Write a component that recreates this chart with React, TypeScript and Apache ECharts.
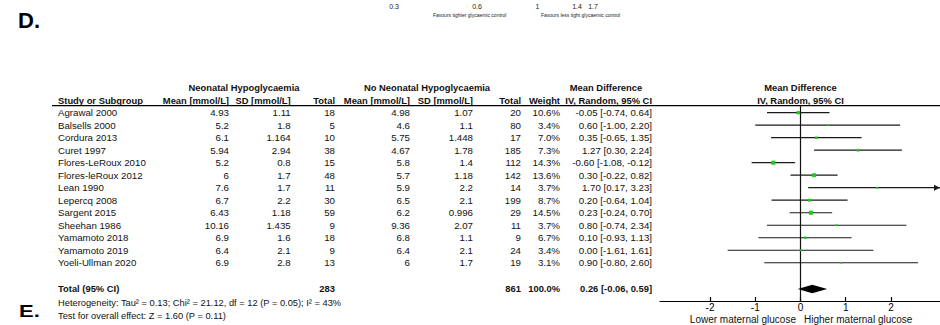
import React, { useEffect, useRef } from 'react';
import * as echarts from 'echarts';

// ---------- data ----------
const studies = ['Agrawal 2000', 'Balsells 2000', 'Cordura 2013', 'Curet 1997', 'Flores-LeRoux 2010', 'Flores-leRoux 2012', 'Lean 1990', 'Lepercq 2008', 'Sargent 2015', 'Sheehan 1986', 'Yamamoto 2018', 'Yamamoto 2019', 'Yoeli-Ullman 2020'];
const nhMean = ['4.93', '5.2', '6.1', '5.94', '5.2', '6', '7.6', '6.7', '6.43', '10.16', '6.9', '6.4', '6.9'];
const nhSD = ['1.11', '1.8', '1.164', '2.94', '0.8', '1.7', '1.7', '2.2', '1.18', '1.435', '1.6', '2.1', '2.8'];
const nhTotal = [18, 5, 10, 38, 15, 48, 11, 30, 59, 9, 18, 9, 13];
const nnhMean = ['4.98', '4.6', '5.75', '4.67', '5.8', '5.7', '5.9', '6.5', '6.2', '9.36', '6.8', '6.4', '6'];
const nnhSD = ['1.07', '1.1', '1.448', '1.78', '1.4', '1.18', '2.2', '2.1', '0.996', '2.07', '1.1', '2.1', '1.7'];
const nnhTotal = [20, 80, 17, 185, 112, 142, 14, 199, 29, 11, 9, 24, 19];
const weights = [10.6, 3.4, 7.0, 7.3, 14.3, 13.6, 3.7, 8.7, 14.5, 3.7, 6.7, 3.4, 3.1];
const meanDiff = [-0.05, 0.60, 0.35, 1.27, -0.60, 0.30, 1.70, 0.20, 0.23, 0.80, 0.10, 0.00, 0.90];
const ciLow = [-0.74, -1.00, -0.65, 0.30, -1.08, -0.22, 0.17, -0.64, -0.24, -0.74, -0.93, -1.61, -0.80];
const ciHigh = [0.64, 2.20, 1.35, 2.24, -0.12, 0.82, 3.23, 1.04, 0.70, 2.34, 1.13, 1.61, 2.60];
const totalCounts = [283, 861];
const totalWeight = 100.0;
const totalEffect = [0.26, -0.06, 0.59]; // md, low, high
const heterogeneityText = 'Heterogeneity: Tau² = 0.13; Chi² = 21.12, df = 12 (P = 0.05); I² = 43%';
const overallText = 'Test for overall effect: Z = 1.60 (P = 0.11)';
const axisTicks = [-2, -1, 0, 1, 2];
const topTickLabels = ['0.3', '0.6', '1', '1.4', '1.7'];

// ---------- layout ----------
const X_MIN = -3.105;
const X_MAX = 3.083;
const Y_MIN = -0.56;
const Y_MAX = 15.06;
const TOTAL_ROW = 14.1;
const FONT = '"Liberation Sans", Arial, sans-serif';
const INK = '#111';
const GREEN = '#1ec81e';
const BODY = 9.7;
const HEAD = 9.4;

const fmt2 = (v: number) => v.toFixed(2);
const ciText = (m: number, lo: number, hi: number) => `${fmt2(m)} [${fmt2(lo)}, ${fmt2(hi)}]`;

function txt(x: number, y: number, text: string, align: string, opts: any = {}) {
  return {
    type: 'text',
    x,
    y,
    silent: true,
    scaleX: opts.scaleX ?? 1,
    scaleY: opts.scaleY ?? 1,
    style: {
      text,
      fill: opts.fill ?? INK,
      fontSize: opts.size ?? BODY,
      fontWeight: opts.weight ?? 'normal',
      fontFamily: FONT,
      textAlign: align,
      align,
      textVerticalAlign: 'middle',
      verticalAlign: 'middle',
    },
  };
}

export default function App() {
  const ref = useRef<HTMLDivElement>(null);

  useEffect(() => {
    if (!ref.current) return;
    const chart = echarts.init(ref.current, null, { renderer: 'svg' });

    const ciData = studies.map((_, i) => [i, meanDiff[i], ciLow[i], ciHigh[i], weights[i]]);

    chart.setOption({
      animation: false,
      grid: { left: 660, right: 0, top: 105.7, height: 195.3 },
      xAxis: {
        type: 'value',
        min: X_MIN,
        max: X_MAX,
        axisLine: { show: true, onZero: false, lineStyle: { color: '#000', width: 1.2 } },
        axisTick: { show: true, inside: true, length: 4, customValues: axisTicks, lineStyle: { color: '#000', width: 1.2 } },
        axisLabel: { show: true, customValues: axisTicks, color: '#000', fontSize: 10, fontFamily: FONT, margin: 1 },
        splitLine: { show: false },
      },
      yAxis: {
        type: 'value',
        min: Y_MIN,
        max: Y_MAX,
        inverse: true,
        show: false,
        splitLine: { show: false },
      },
      series: [
        {
          type: 'line',
          data: [[0, Y_MIN], [0, Y_MAX]],
          showSymbol: false,
          symbol: 'none',
          lineStyle: { color: '#111', width: 1.2 },
          silent: true,
          z: 1,
        },
        {
          type: 'custom',
          data: ciData,
          encode: { x: [1, 2, 3], y: 0 },
          clip: false,
          z: 2,
          renderItem: (_params: any, api: any) => {
            const row = api.value(0);
            const m = api.value(1);
            const lo = api.value(2);
            const hi = api.value(3);
            const w = api.value(4);
            const pLo = api.coord([Math.max(lo, X_MIN), row]);
            const pHi = api.coord([Math.min(hi, X_MAX), row]);
            const pM = api.coord([m, row]);
            const s = 1.2 + w * 0.2;
            const children: any[] = [
              { type: 'line', shape: { x1: pLo[0], y1: pLo[1], x2: pHi[0], y2: pHi[1] }, style: { stroke: '#1a1a1a', lineWidth: 1.2 } },
              { type: 'rect', shape: { x: pM[0] - s / 2, y: pM[1] - s / 2, width: s, height: s }, style: { fill: GREEN } },
            ];
            if (hi > X_MAX) {
              children.push({
                type: 'polygon',
                shape: { points: [[pHi[0], pHi[1]], [pHi[0] - 6, pHi[1] - 3], [pHi[0] - 6, pHi[1] + 3]] },
                style: { fill: '#1a1a1a' },
              });
            }
            return { type: 'group', children };
          },
        },
        {
          type: 'custom',
          data: [[TOTAL_ROW, totalEffect[0], totalEffect[1], totalEffect[2]]],
          encode: { x: [1, 2, 3], y: 0 },
          clip: false,
          z: 3,
          renderItem: (_params: any, api: any) => {
            const row = api.value(0);
            const pM = api.coord([api.value(1), row]);
            const pLo = api.coord([api.value(2), row]);
            const pHi = api.coord([api.value(3), row]);
            return {
              type: 'polygon',
              shape: { points: [[pLo[0], pLo[1]], [pM[0], pM[1] - 4.2], [pHi[0], pHi[1]], [pM[0], pM[1] + 4.2]] },
              style: { fill: '#000' },
            };
          },
        },
      ],
    });

    const rowY = (r: number) => chart.convertToPixel({ gridIndex: 0 }, [0, r])[1];
    const zeroX = chart.convertToPixel({ gridIndex: 0 }, [0, 0])[0];

    const g: any[] = [];
    // panel letters
    g.push(txt(18, 20, 'D.', 'left', { size: 22, weight: 'bold', fill: '#000' }));
    g.push(txt(19, 311.5, 'E.', 'left', { size: 22, weight: 'bold', fill: '#000', scaleY: 0.72 }));

    // remnant axis of previous panel
    const topX = [394, 477, 537.5, 577, 593];
    topTickLabels.forEach((t, i) => g.push(txt(topX[i], 6, t, 'center', { size: 7, fill: '#222' })));
    g.push(txt(433, 15, 'Favours tighter glycaemic control', 'left', { size: 5, fill: '#222' }));
    g.push(txt(541, 15, 'Favours less tight glycaemic control', 'left', { size: 5, fill: '#222' }));

    // headers
    const B = { weight: 'bold', size: HEAD };
    g.push(txt(244, 87.7, 'Neonatal Hypoglycaemia', 'center', B));
    g.push(txt(427, 87.7, 'No Neonatal Hypoglycaemia', 'center', B));
    g.push(txt(606, 87.7, 'Mean Difference', 'center', B));
    g.push(txt(zeroX, 87.7, 'Mean Difference', 'center', B));
    g.push(txt(58, 100, 'Study or Subgroup', 'left', B));
    g.push(txt(229, 100, 'Mean [mmol/L]', 'right', B));
    g.push(txt(290.7, 100, 'SD [mmol/L]', 'right', B));
    g.push(txt(335, 100, 'Total', 'right', B));
    g.push(txt(410, 100, 'Mean [mmol/L]', 'right', B));
    g.push(txt(473, 100, 'SD [mmol/L]', 'right', B));
    g.push(txt(521, 100, 'Total', 'right', B));
    g.push(txt(560, 100, 'Weight', 'right', B));
    g.push(txt(652, 100, 'IV, Random, 95% CI', 'right', B));
    g.push(txt(zeroX, 100, 'IV, Random, 95% CI', 'center', B));
    g.push({ type: 'line', silent: true, shape: { x1: 52, y1: 105.7, x2: 940, y2: 105.7 }, style: { stroke: '#000', lineWidth: 1.2 } });

    // study rows
    studies.forEach((s, i) => {
      const y = rowY(i);
      g.push(txt(58, y, s, 'left'));
      g.push(txt(229, y, nhMean[i], 'right'));
      g.push(txt(290.7, y, nhSD[i], 'right'));
      g.push(txt(335, y, String(nhTotal[i]), 'right'));
      g.push(txt(410, y, nnhMean[i], 'right'));
      g.push(txt(473, y, nnhSD[i], 'right'));
      g.push(txt(521, y, String(nnhTotal[i]), 'right'));
      g.push(txt(560, y, weights[i].toFixed(1) + '%', 'right'));
      g.push(txt(652, y, ciText(meanDiff[i], ciLow[i], ciHigh[i]), 'right'));
    });

    // total row
    const ty = rowY(TOTAL_ROW);
    g.push(txt(58, ty, 'Total (95% CI)', 'left', B));
    g.push(txt(335, ty, String(totalCounts[0]), 'right', B));
    g.push(txt(521, ty, String(totalCounts[1]), 'right', B));
    g.push(txt(560, ty, totalWeight.toFixed(1) + '%', 'right', B));
    g.push(txt(652, ty, ciText(totalEffect[0], totalEffect[1], totalEffect[2]), 'right', B));
    g.push(txt(58, ty + 14, heterogeneityText, 'left', { size: 9.3 }));
    g.push(txt(58, ty + 27.5, overallText, 'left', { size: 9.3 }));

    // axis captions
    g.push(txt(796, 319, 'Lower maternal glucose', 'right', { size: 10 }));
    g.push(txt(804, 319, 'Higher maternal glucose', 'left', { size: 10 }));

    chart.setOption({ graphic: { elements: g } });

    return () => chart.dispose();
  }, []);

  return (
    <div
      ref={ref}
      style={{ position: 'absolute', left: 0, top: 0, width: 940, height: 325, background: '#fff' }}
    />
  );
}
